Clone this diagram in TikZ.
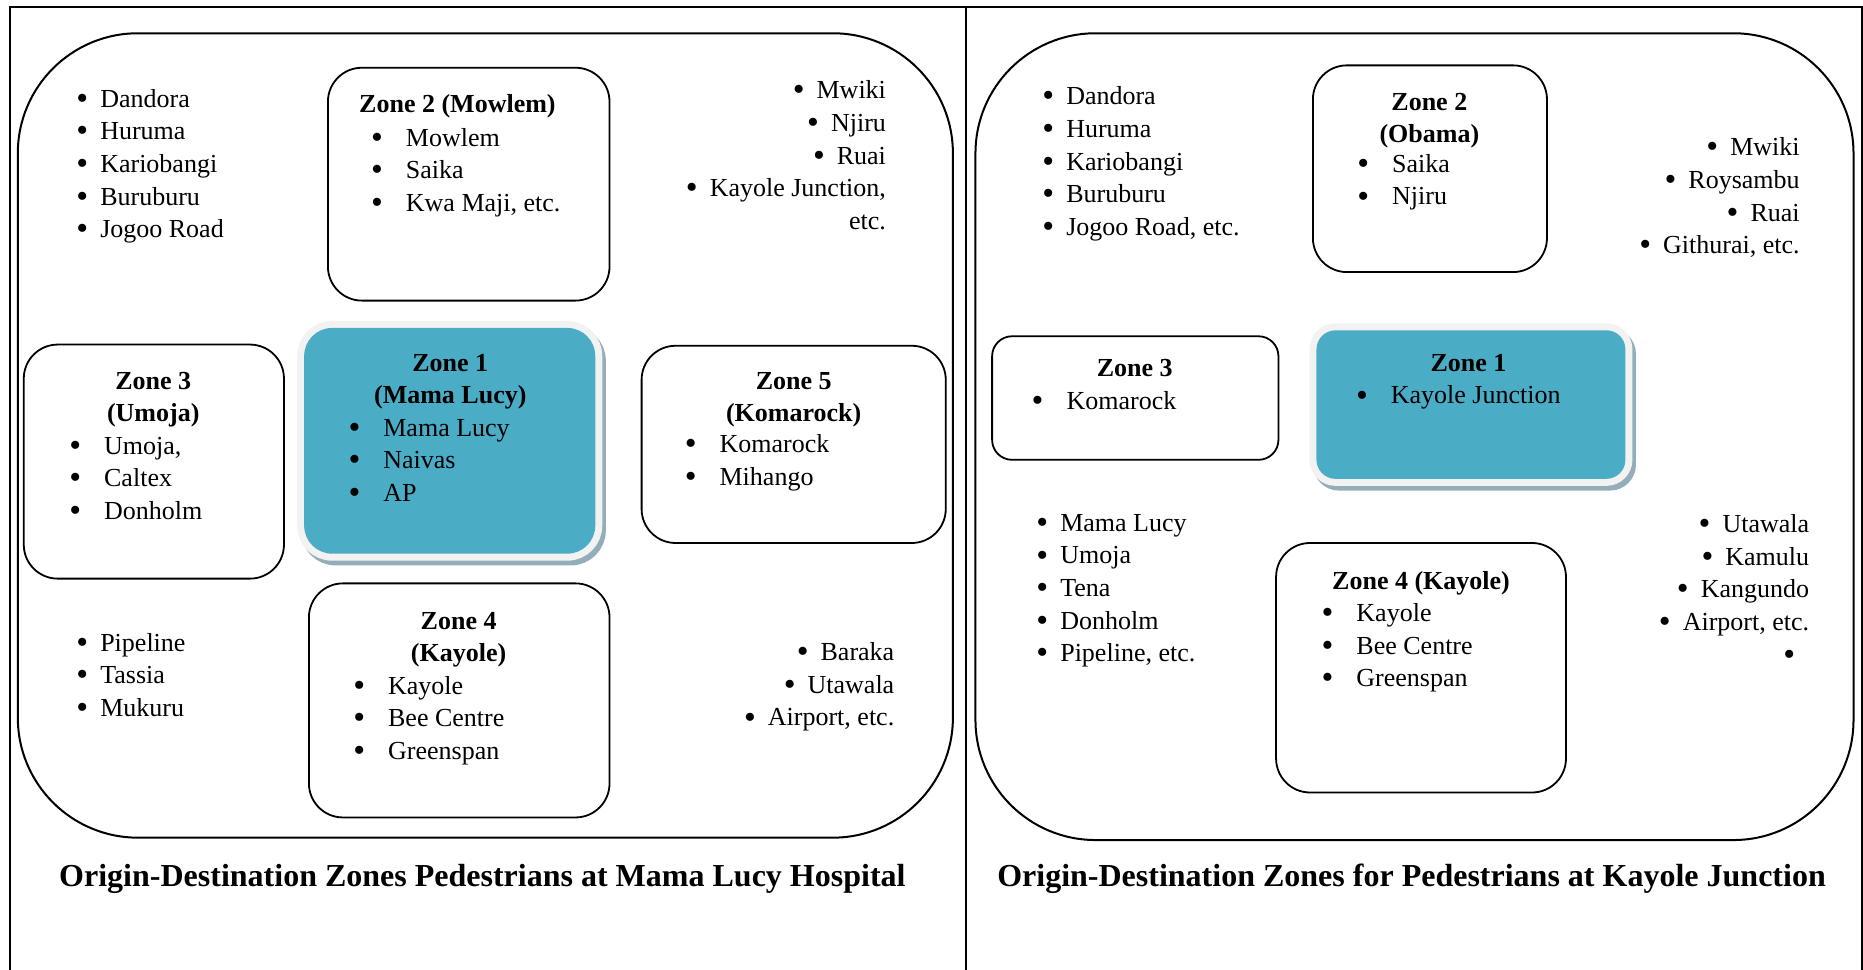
\documentclass[tikz,border=0pt]{standalone}
\usepackage{fontspec}
\setmainfont{Liberation Serif}

\definecolor{zoneteal}{RGB}{75,172,198}
\definecolor{glowgray}{RGB}{242,242,242}
\definecolor{shadowblue}{RGB}{147,174,184}

% one drawing unit, for sizes given as lengths
\newcommand{\pxu}{0.594pt}
% a fuller bullet, and list entries outside and inside the zones
\newcommand{\bul}{\raisebox{-0.08em}{\scalebox{1.3}{\textbullet}}}
\newcommand{\itm}[1]{\bul\hspace{6pt}#1}
\newcommand{\zitm}[1]{\bul\hspace{11.5pt}#1}

\begin{document}
\begin{tikzpicture}[
    x=0.594pt, y=-0.594pt,
    frame/.style={line width=1pt},
    area/.style={draw, line width=1pt, rounded corners=60pt,
        inner sep=0pt, outer sep=0pt},
    zone/.style={draw, line width=0.9pt, rounded corners=17pt,
        inner sep=0pt, outer sep=0pt},
    hub/.style={fill=zoneteal, rounded corners=14pt, inner sep=0pt, outer sep=0pt,
        preaction={draw=shadowblue, fill=shadowblue, line width=7pt,
            transform canvas={shift={(3,4)}}},
        preaction={draw=glowgray, line width=7pt}},
    places/.style={font=\fontsize{13}{16.3}\selectfont, inner sep=0pt, align=left},
    rplaces/.style={places, align=right},
    zname/.style={font=\fontsize{13}{16}\selectfont\bfseries, inner sep=0pt, align=center},
    figtitle/.style={font=\fontsize{16}{19}\selectfont\bfseries, inner sep=0pt}
]
    \useasboundingbox (0,0) rectangle (1568,816);

    % panel frames
    \draw[frame] (8.5,816) -- (8.5,6) -- (1567,6) -- (1567,816);
    \draw[frame, line width=1.3pt] (813,6) -- (813,816);

    % ---- Mama Lucy Hospital ----
    % (multi-line nodes sit on the baseline of their last line)
    \node[area, minimum width=787*\pxu, minimum height=677*\pxu] (marea) at (408.5,366.5) {};

    \node[zone, minimum width=237*\pxu, minimum height=196*\pxu] (mz2) at (394.5,155) {};
    \node[hub, minimum width=245*\pxu, minimum height=190*\pxu] (mz1) at (378.5,371) {};
    \node[zone, minimum width=219*\pxu, minimum height=197*\pxu] (mz3) at (129.5,388.5) {};
    \node[zone, minimum width=256*\pxu, minimum height=166*\pxu] (mz5) at (668,374) {};
    \node[zone, minimum width=253*\pxu, minimum height=197*\pxu] (mz4) at (386.5,589.5) {};

    \node[zname, anchor=base] (mz2t) at (385,95) {Zone 2 (Mowlem)};
    \node[places, anchor=base west] (mz2l) at (312,178)
        {\zitm{Mowlem}\\ \zitm{Saika}\\ \zitm{Kwa Maji, etc.}};
    \node[zname, anchor=base] (mz1t) at (379,340) {Zone 1\\(Mama Lucy)};
    \node[places, anchor=base west] (mz1l) at (293,422)
        {\zitm{Mama Lucy}\\ \zitm{Naivas}\\ \zitm{AP}};
    \node[zname, anchor=base] (mz3t) at (129,355) {Zone 3\\(Umoja)};
    \node[places, anchor=base west] (mz3l) at (58,437)
        {\zitm{Umoja,}\\ \zitm{Caltex}\\ \zitm{Donholm}};
    \node[zname, anchor=base] (mz5t) at (668,355) {Zone 5\\(Komarock)};
    \node[places, anchor=base west] (mz5l) at (576,408.5)
        {\zitm{Komarock}\\ \zitm{Mihango}};
    \node[zname, anchor=base] (mz4t) at (386,557) {Zone 4\\(Kayole)};
    \node[places, anchor=base west] (mz4l) at (297,639)
        {\zitm{Kayole}\\ \zitm{Bee Centre}\\ \zitm{Greenspan}};

    \node[places, anchor=base west] (mtl) at (64,200)
        {\itm{Dandora}\\ \itm{Huruma}\\ \itm{Kariobangi}\\ \itm{Buruburu}\\ \itm{Jogoo Road}};
    \node[rplaces, anchor=base east] (mtr) at (746,193)
        {\itm{Mwiki}\\ \itm{Njiru}\\ \itm{Ruai}\\ \itm{Kayole Junction,}\\ etc.};
    \node[places, anchor=base west] (mbl) at (64,603)
        {\itm{Pipeline}\\ \itm{Tassia}\\ \itm{Mukuru}};
    \node[rplaces, anchor=base east] (mbr) at (753,611)
        {\itm{Baraka}\\ \itm{Utawala}\\ \itm{Airport, etc.}};

    \node[figtitle, anchor=base] (mcap) at (406,746)
        {Origin-Destination Zones Pedestrians at Mama Lucy Hospital};

    % ---- Kayole Junction ----
    \node[area, minimum width=739*\pxu, minimum height=679*\pxu] (karea) at (1190.5,367.5) {};

    \node[zone, minimum width=197*\pxu, minimum height=174*\pxu] (kz2) at (1203.5,142) {};
    \node[zone, rounded corners=10pt, minimum width=241*\pxu, minimum height=104*\pxu] (kz3) at (955.5,335) {};
    \node[hub, rounded corners=9.5pt, minimum width=260*\pxu, minimum height=125*\pxu] (kz1) at (1238,340.5) {};
    \node[zone, minimum width=244*\pxu, minimum height=210*\pxu] (kz4) at (1196,562) {};

    \node[zname, anchor=base] (kz2t) at (1203,120) {Zone 2\\(Obama)};
    \node[places, anchor=base west] (kz2l) at (1142,172.5)
        {\zitm{Saika}\\ \zitm{Njiru}};
    \node[zname, anchor=base] (kz3t) at (955,317) {Zone 3};
    \node[places, anchor=base west] (kz3l) at (868,345) {\zitm{Komarock}};
    \node[zname, anchor=base] (kz1t) at (1236,313) {Zone 1};
    \node[places, anchor=base west] (kz1l) at (1141,340) {\zitm{Kayole Junction}};
    \node[zname, anchor=base] (kz4t) at (1196,496) {Zone 4 (Kayole)};
    \node[places, anchor=base west] (kz4l) at (1112,578)
        {\zitm{Kayole}\\ \zitm{Bee Centre}\\ \zitm{Greenspan}};

    \node[places, anchor=base west] (ktl) at (877,198)
        {\itm{Dandora}\\ \itm{Huruma}\\ \itm{Kariobangi}\\ \itm{Buruburu}\\ \itm{Jogoo Road, etc.}};
    \node[rplaces, anchor=base east] (ktr) at (1515,213.5)
        {\itm{Mwiki}\\ \itm{Roysambu}\\ \itm{Ruai}\\ \itm{Githurai, etc.}};
    \node[places, anchor=base west] (kml) at (872,557)
        {\itm{Mama Lucy}\\ \itm{Umoja}\\ \itm{Tena}\\ \itm{Donholm}\\ \itm{Pipeline, etc.}};
    \node[rplaces, anchor=base east] (kmr) at (1523,558)
        {\itm{Utawala}\\ \itm{Kamulu}\\ \itm{Kangundo}\\ \itm{Airport, etc.}\\ \bul\kern7pt};

    \node[figtitle, anchor=base] (kcap) at (1188,746)
        {Origin-Destination Zones for Pedestrians at Kayole Junction};
\end{tikzpicture}
\end{document}
